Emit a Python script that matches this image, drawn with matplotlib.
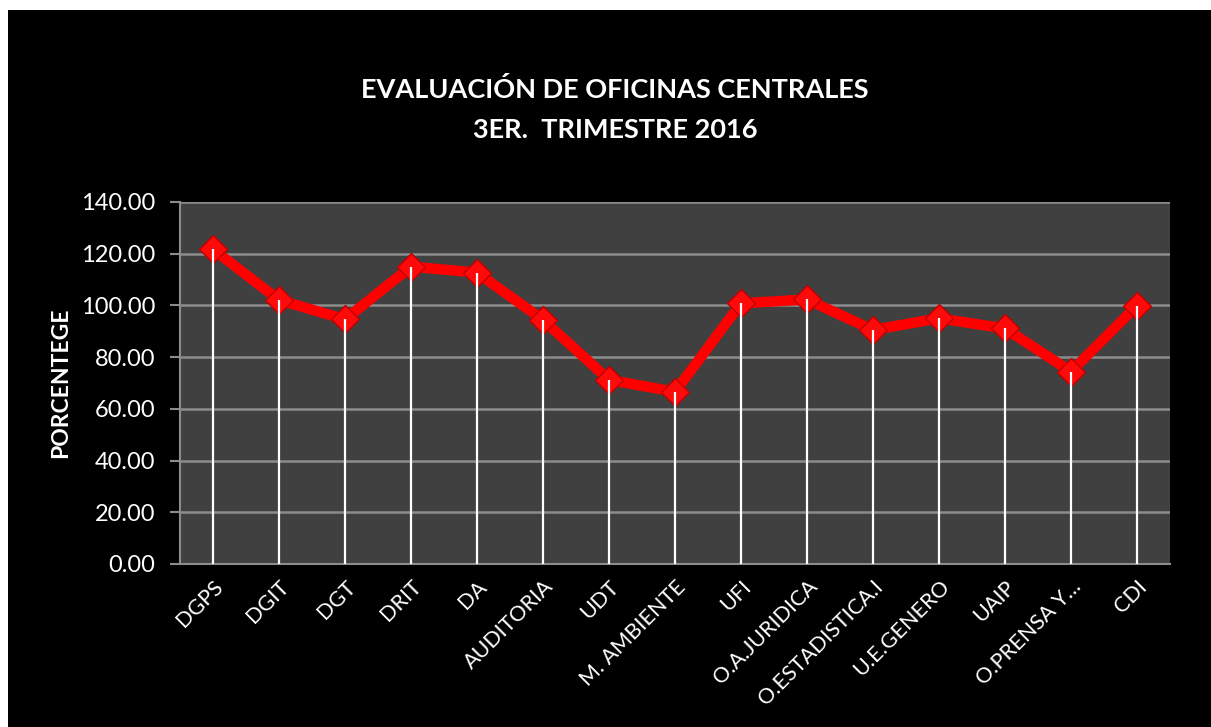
import matplotlib.pyplot as plt
from matplotlib.patches import Rectangle

# data
oficinas = ["DGPS", "DGIT", "DGT", "DRIT", "DA", "AUDITORIA", "UDT", "M. AMBIENTE",
            "UFI", "O.A.JURIDICA", "O.ESTADISTICA.I", "U.E.GENERO", "UAIP",
            "O.PRENSA Y…", "CDI"]
porcentaje = [121.7, 102.1, 94.6, 115.0, 112.7, 94.4, 71.2, 66.6,
              100.8, 102.3, 90.5, 95.0, 91.1, 74.4, 99.9]
y_ticks = [0, 20, 40, 60, 80, 100, 120, 140]

plt.rcParams["font.family"] = ["Lato", "DejaVu Sans"]

fig = plt.figure(figsize=(12.11, 7.27), dpi=100, facecolor="white")
# black chart area (white strip left and top like the original)
fig.patches.append(Rectangle((8 / 1211, 0), 1, 1 - 10 / 727, transform=fig.transFigure,
                             facecolor="black", edgecolor="none", zorder=-10))

ax = fig.add_axes([180 / 1211, 1 - 564 / 727, 990 / 1211, 362 / 727])
ax.set_facecolor("#404040")

x = list(range(len(oficinas)))
ax.plot(x, porcentaje, color="#ff0000", lw=7.5, solid_joinstyle="round", zorder=3,
        marker="D", markersize=14, markerfacecolor="#ff0a0a",
        markeredgecolor="#c00000", markeredgewidth=1)
ax.vlines(x, 0, porcentaje, color="white", lw=1.6, zorder=4)

ax.set_xlim(-0.5, len(oficinas) - 0.5)
ax.set_ylim(0, 140)
ax.set_yticks(y_ticks)
ax.set_yticklabels([f"{v:.2f}" for v in y_ticks])
ax.yaxis.grid(True, color="#8c8c8c", lw=1.8, zorder=1)
ax.set_axisbelow(True)

for side in ["top", "right"]:
    ax.spines[side].set_visible(False)
for side in ["left", "bottom"]:
    ax.spines[side].set_color("#8c8c8c")
    ax.spines[side].set_linewidth(1.5)

ax.tick_params(axis="y", colors="#8c8c8c", labelcolor="white", labelsize=17,
               length=7, width=1.5, pad=11)
ax.tick_params(axis="x", length=0, labelcolor="white", labelsize=15.5, pad=9)
ax.set_xticks(x)
ax.set_xticklabels(oficinas, rotation=45, ha="right", rotation_mode="anchor")

ax.set_ylabel("PORCENTEGE", color="white", fontsize=16.5, fontweight="bold", labelpad=7)

fig.text(0.508, 1 - 90 / 727, "EVALUACIÓN DE OFICINAS CENTRALES", color="white",
         fontsize=19.5, fontweight="bold", ha="center", va="center")
fig.text(0.508, 1 - 130 / 727, "3ER.  TRIMESTRE 2016", color="white",
         fontsize=19.5, fontweight="bold", ha="center", va="center")

fig.savefig("out.png", dpi=100, facecolor="white")
